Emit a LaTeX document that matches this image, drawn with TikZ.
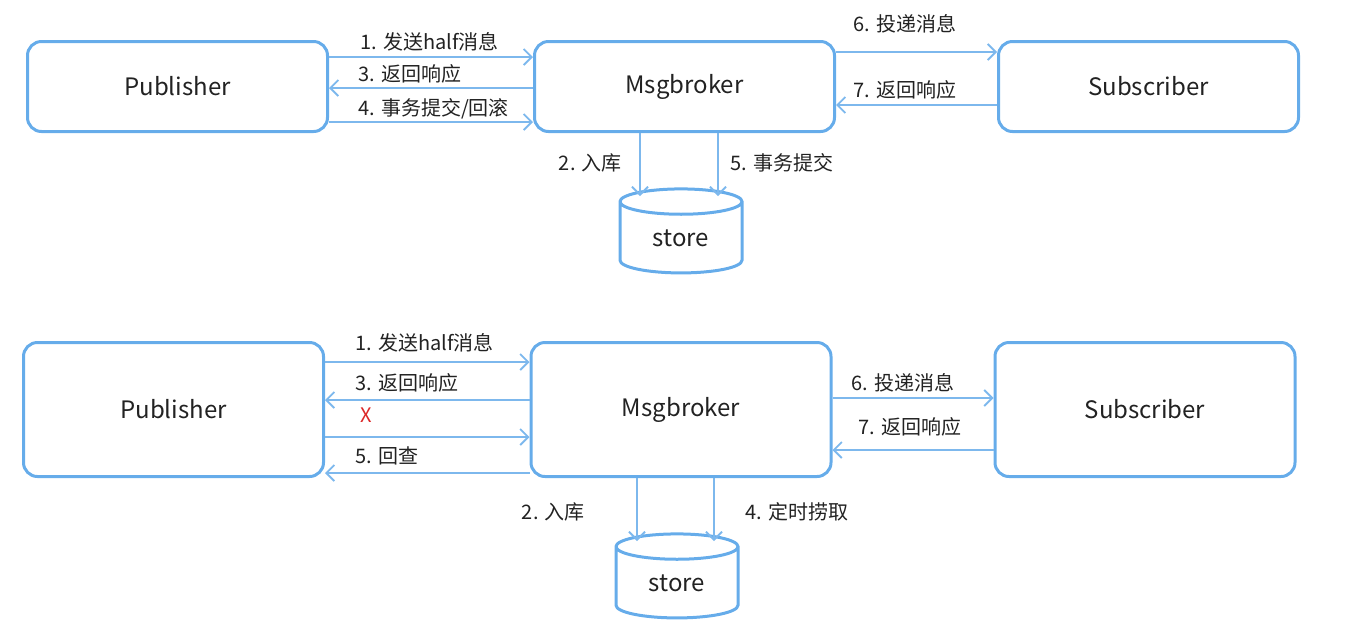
\documentclass[tikz,border=0pt]{standalone}
\usepackage{fontspec}
\setmainfont{Noto Sans CJK SC}
\usetikzlibrary{arrows.meta,shapes.geometric}
\definecolor{boxblue}{RGB}{102,172,234}
\definecolor{txtgray}{RGB}{34,34,34}
\definecolor{xred}{RGB}{220,40,40}
\tikzset{
box/.style={draw=boxblue,line width=1.5pt,rounded corners=7pt,minimum width=150pt,text=txtgray,font=\fontsize{12}{14}\selectfont,inner sep=0pt},
db/.style={draw=boxblue,line width=1.5pt,cylinder,shape border rotate=90,aspect=0.45,minimum width=61pt,minimum height=42pt,text=txtgray,font=\fontsize{12}{14}\selectfont,inner sep=0pt},
flow/.style={draw=boxblue!85,line width=0.9pt,-{Straight Barb[length=4pt,width=8pt]}},
lbl/.style={text=txtgray,font=\fontsize{10}{12}\selectfont,inner sep=0pt,anchor=west},
}
\begin{document}
\begin{tikzpicture}[x=0.5pt,y=-0.5pt]
\useasboundingbox (0,0) rectangle (1366,628);
\node[box,minimum height=45pt] (pubT) at (177.5,86.5) {Publisher};
\node[box,minimum height=45pt] (brkT) at (684.5,86.5) {Msgbroker};
\node[box,minimum height=45pt] (subT) at (1148.5,86.5) {Subscriber};
\node[db] (storeT) at (681,238) {store};
\node[box,minimum height=67pt] (pubB) at (173.5,409.5) {Publisher};
\node[box,minimum height=67pt] (brkB) at (681,409.5) {Msgbroker};
\node[box,minimum height=67pt] (subB) at (1145,409.5) {Subscriber};
\node[db] (storeB) at (677,583) {store};

\draw[flow] (pubT.east |- 0,57) -- (brkT.west |- 0,57);
\draw[flow] (brkT.west |- 0,88) -- (pubT.east |- 0,88);
\draw[flow] (pubT.east |- 0,122) -- (brkT.west |- 0,122);
\draw[flow] (brkT.east |- 0,52) -- (subT.west |- 0,52);
\draw[flow] (subT.west |- 0,105) -- (brkT.east |- 0,105);
\draw[flow] (brkT.south -| 640,0) -- (640,196);
\draw[flow] (brkT.south -| 718,0) -- (718,196);
\node[lbl] (t1) at (360,42) {1. 发送half消息};
\node[lbl] (t3) at (358,74) {3. 返回响应};
\node[lbl] (t4) at (358,109) {4. 事务提交/回滚};
\node[lbl] (t6) at (853,24) {6. 投递消息};
\node[lbl] (t7) at (853,90) {7. 返回响应};
\node[lbl,anchor=east] (t2) at (622,163) {2. 入库};
\node[lbl] (t5) at (730,163) {5. 事务提交};

\draw[flow] (pubB.east |- 0,362) -- (brkB.west |- 0,362);
\draw[flow] (brkB.west |- 0,400) -- (pubB.east |- 0,400);
\draw[flow] (pubB.east |- 0,437) -- (brkB.west |- 0,437);
\draw[flow] (brkB.west |- 0,473) -- (pubB.east |- 0,473);
\draw[flow] (brkB.east |- 0,398) -- (subB.west |- 0,398);
\draw[flow] (subB.west |- 0,450) -- (brkB.east |- 0,450);
\draw[flow] (brkB.south -| 637,0) -- (637,541);
\draw[flow] (brkB.south -| 714,0) -- (714,541);
\node[lbl] (b1) at (355,343) {1. 发送half消息};
\node[lbl] (b3) at (355,383) {3. 返回响应};
\node[lbl,text=xred] (bx) at (360,415) {X};
\node[lbl] (b5) at (355,456) {5. 回查};
\node[lbl] (b6) at (851,383) {6. 投递消息};
\node[lbl] (b7) at (858,427) {7. 返回响应};
\node[lbl,anchor=east] (b2) at (585,512) {2. 入库};
\node[lbl] (b4) at (745,512) {4. 定时捞取};
\end{tikzpicture}
\end{document}
